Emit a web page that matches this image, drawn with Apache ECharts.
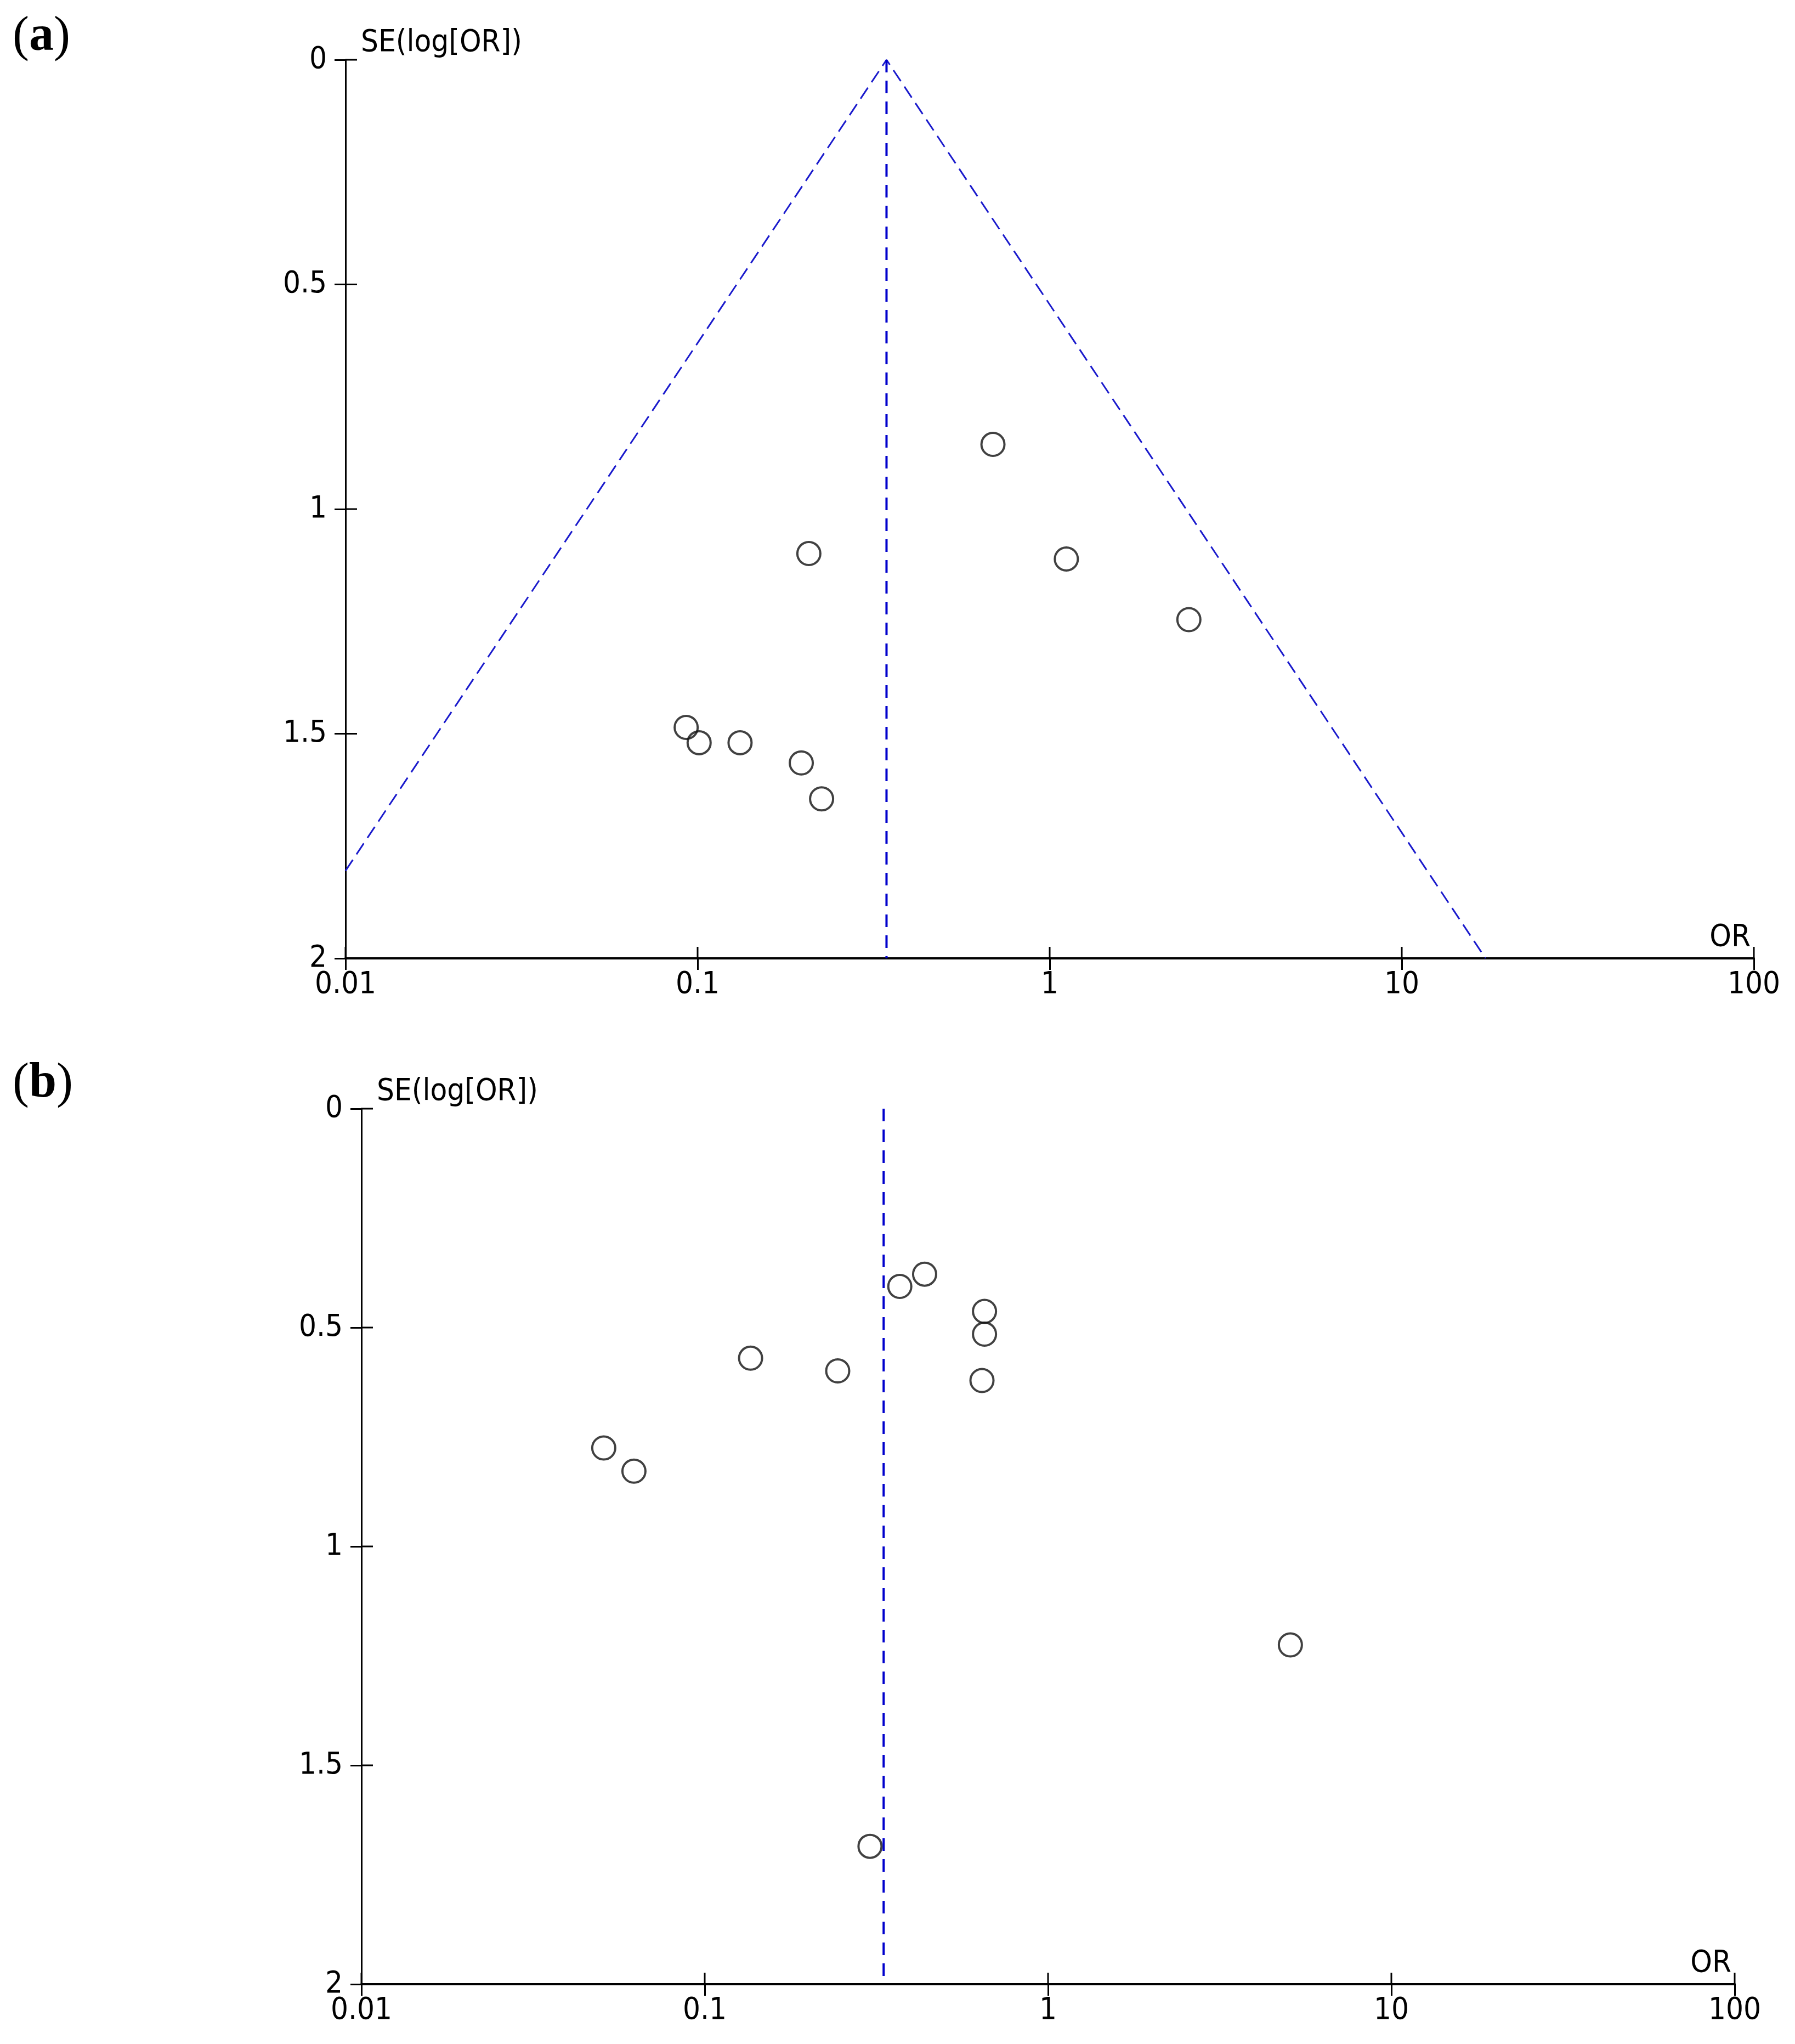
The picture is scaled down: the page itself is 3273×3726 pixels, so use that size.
<!DOCTYPE html>
<html>
<head>
<meta charset="utf-8">
<script src="https://cdn.jsdelivr.net/npm/echarts@6/dist/echarts.min.js"></script>
<style>
html,body{margin:0;padding:0;background:#fff;}
#chart{width:3273px;height:3726px;}
</style>
</head>
<body>
<div id="chart"></div>
<script>
// ---------- Data ----------
// Panel (a)
const aOR = [0.690, 1.115, 2.485, 0.207, 0.0928, 0.101, 0.132, 0.197, 0.225];
const aSE = [0.856, 1.111, 1.246, 1.099, 1.486, 1.520, 1.520, 1.565, 1.645];
const aPooledOR = 0.344;
const aFunnelOR = [0.01, 0.344, 17.3];
const aFunnelSE = [1.805, 0, 2];
// Panel (b)
const bOR = [0.437, 0.370, 0.653, 0.653, 0.642, 0.136, 0.244, 0.0508, 0.0622, 5.08, 0.303];
const bSE = [0.378, 0.406, 0.463, 0.515, 0.621, 0.570, 0.599, 0.775, 0.828, 1.225, 1.685];
const bPooledOR = 0.332;
// Axes
const xTickLabels = ['0.01', '0.1', '1', '10', '100'];
const yTickLabels = ['0', '0.5', '1', '1.5', '2'];
const xName = 'OR';
const yName = 'SE(log[OR])';
const panelLetters = ['a', 'b'];

// ---------- Styles ----------
const tickFont = "'Liberation Sans Narrow', 'DejaVu Sans Condensed', 'Liberation Sans', sans-serif";
const fs = 56;
const BLUE = '#0000cc';

function zip(xs, ys) { return xs.map((x, i) => [x, ys[i]]); }
function fmtX(v) {
  const s = String(Number(Number(v).toPrecision(6)));
  return xTickLabels.includes(s) ? s : '';
}
function fmtY(v) {
  const s = String(Number(Number(v).toPrecision(6)));
  return yTickLabels.includes(s) ? s : '';
}
const xTickValues = xTickLabels.map(Number);
const yTickValues = yTickLabels.map(Number);
const X_MIN = xTickValues[0], Y_MAX = yTickValues[yTickValues.length - 1];

const tickStyle = { color: '#000', width: 3 };

function xAxisCfg(gridIndex) {
  return {
    type: 'log', logBase: 10, min: X_MIN, max: xTickValues[xTickValues.length - 1], gridIndex,
    position: 'bottom',
    splitLine: { show: false }, minorTick: { show: false },
    axisLine: { show: true, onZero: false, lineStyle: { color: '#000', width: 4 } },
    axisTick: { show: true, inside: false, length: 21, lineStyle: tickStyle },
    axisLabel: { show: true, margin: 20, fontFamily: tickFont, fontSize: fs, color: '#000', formatter: fmtX },
    name: xName, nameLocation: 'end', nameGap: -6,
    nameTextStyle: { fontFamily: tickFont, fontSize: fs, color: '#000', align: 'right', verticalAlign: 'bottom', padding: [0, 0, 10, 0] }
  };
}
function yAxisCfg(gridIndex) {
  return {
    type: 'value', inverse: true, min: yTickValues[0], max: Y_MAX, interval: 0.5, gridIndex,
    position: 'left',
    splitLine: { show: false },
    axisLine: { show: true, onZero: false, lineStyle: { color: '#000', width: 3 } },
    axisTick: { show: true, inside: false, length: 20, lineStyle: tickStyle },
    axisLabel: { show: true, margin: 34, fontFamily: tickFont, fontSize: fs, color: '#000', formatter: fmtY },
    name: yName, nameLocation: 'start', nameGap: 3,
    nameTextStyle: { fontFamily: tickFont, fontSize: fs, color: '#000', align: 'left', verticalAlign: 'bottom', padding: [0, 0, 0, 28] }
  };
}

function scatter(i, data) {
  return {
    type: 'scatter', xAxisIndex: i, yAxisIndex: i, data,
    symbol: 'circle', symbolSize: 42,
    itemStyle: { color: 'rgba(0,0,0,0)', borderColor: '#111', borderWidth: 4 },
    z: 5, silent: true
  };
}
function dashLine(i, data, width, dash, color) {
  return {
    type: 'line', xAxisIndex: i, yAxisIndex: i, data,
    symbol: 'none', animation: false, silent: true,
    lineStyle: { color, width, type: dash },
    z: 3
  };
}
// inner half of the crossing ticks, placed through the axes' own scales
function innerTicks(i) {
  const data = yTickValues.map(v => [X_MIN, v, 0]).concat(xTickValues.map(v => [v, Y_MAX, 1]));
  return {
    type: 'custom', xAxisIndex: i, yAxisIndex: i, data, silent: true, clip: false, z: 4,
    encode: { x: 0, y: 1 },
    renderItem: function (params, api) {
      const p = api.coord([api.value(0), api.value(1)]);
      const isX = api.value(2) === 1;
      const len = 21;
      return {
        type: 'line',
        shape: isX ? { x1: p[0], y1: p[1], x2: p[0], y2: p[1] - len } : { x1: p[0], y1: p[1], x2: p[0] + len, y2: p[1] },
        style: { stroke: '#000', lineWidth: 3 }
      };
    }
  };
}

const titleRich = {
  p: { fontFamily: "'Liberation Serif', 'DejaVu Serif', serif", fontSize: 90, fontWeight: 'normal', color: '#000' },
  b: { fontFamily: "'Liberation Serif', 'DejaVu Serif', serif", fontSize: 90, fontWeight: 'bold', color: '#000' }
};

const option = {
  backgroundColor: '#fff',
  animation: false,
  title: [
    { text: '{p|(}{b|' + panelLetters[0] + '}{p|)}', left: 18, top: 18, textStyle: { rich: titleRich } },
    { text: '{p|(}{b|' + panelLetters[1] + '}{p|)}', left: 18, top: 1926, textStyle: { rich: titleRich } }
  ],
  grid: [
    { left: 630, top: 109, width: 2568, height: 1638 },
    { left: 659, top: 2021, width: 2504, height: 1596 }
  ],
  xAxis: [xAxisCfg(0), xAxisCfg(1)],
  yAxis: [yAxisCfg(0), yAxisCfg(1)],
  series: [
    dashLine(0, zip(aFunnelOR, aFunnelSE), 3, [24, 12], '#1a1acc'),
    dashLine(0, [[aPooledOR, 0], [aPooledOR, 2]], 4, [23, 15], BLUE),
    scatter(0, zip(aOR, aSE)),
    innerTicks(0),
    dashLine(1, [[bPooledOR, 0], [bPooledOR, 2]], 4, [23, 15], BLUE),
    scatter(1, zip(bOR, bSE)),
    innerTicks(1)
  ]
};

const chart = echarts.init(document.getElementById('chart'), null, { renderer: 'canvas', width: 3273, height: 3726 });
chart.setOption(option);
</script>
</body>
</html>
